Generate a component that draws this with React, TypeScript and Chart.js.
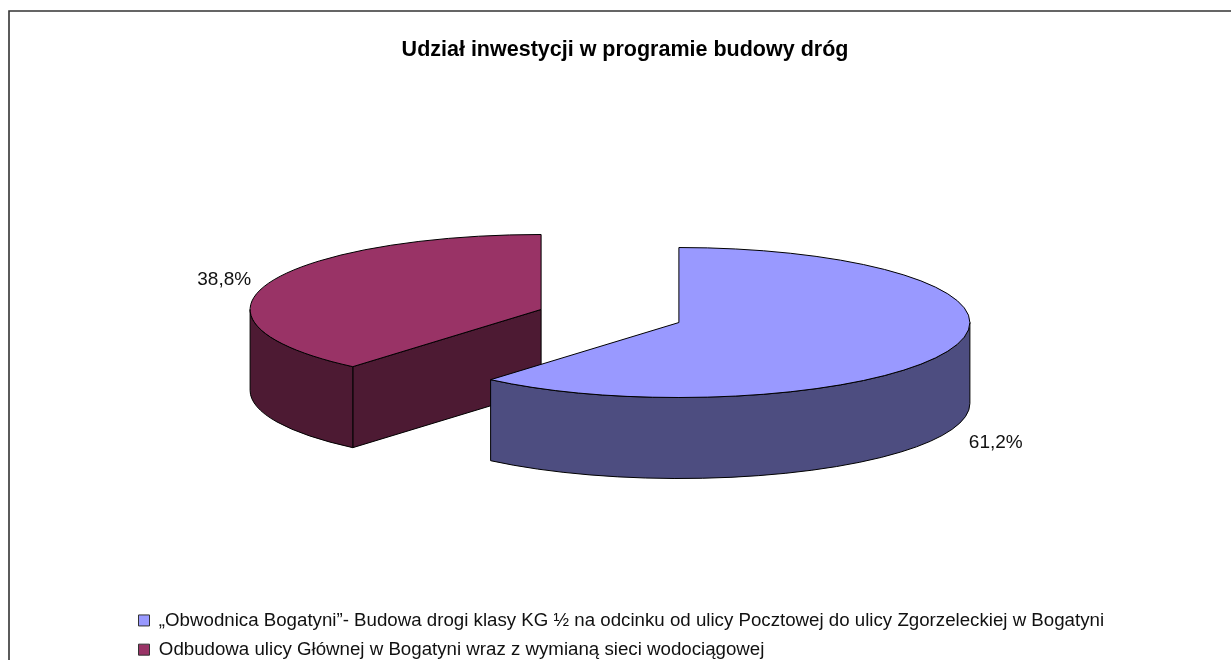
import React, { useEffect, useRef } from "react";
import { Chart, registerables } from "chart.js";

Chart.register(...registerables);

const chartTitle = "Udział inwestycji w programie budowy dróg";
const categories = [
  "„Obwodnica Bogatyni”- Budowa drogi klasy KG ½ na odcinku od ulicy Pocztowej do ulicy Zgorzeleckiej w Bogatyni",
  "Odbudowa ulicy Głównej w Bogatyni wraz z wymianą sieci wodociągowej",
];
const values = [61.2, 38.8];
const topColors = ["#9999FF", "#993366"];
const sideColors = ["#4D4D80", "#4D1A33"];

const FONT = "'Liberation Sans', Arial, sans-serif";
const RADIUS = 291;
const SQUASH = 0.2577;
const DEPTH = 81;
const EXPLODE = 73.4;
const CENTER_X = 610;
const CENTER_Y = 316;

const pie3d = {
  id: "pie3d",
  beforeDraw(chart: any) {
    const { ctx } = chart;
    ctx.save();
    ctx.strokeStyle = "#333333";
    ctx.lineWidth = 1.6;
    ctx.beginPath();
    ctx.moveTo(1240, 11);
    ctx.lineTo(9, 11);
    ctx.lineTo(9, 670);
    ctx.stroke();
    ctx.restore();
  },
  afterDatasetUpdate(chart: any) {
    const arcs = chart.getDatasetMeta(0).data;
    if (!arcs.length) return;
    const base = { x: arcs[0].x, y: arcs[0].y };
    chart.$pieBase = base;
    arcs.forEach((a: any) => {
      const mid = (a.startAngle + a.endAngle) / 2;
      a.x = base.x + Math.cos(mid) * EXPLODE;
      a.y = base.y + Math.sin(mid) * EXPLODE;
    });
  },
  beforeDatasetsDraw(chart: any) {
    const { ctx } = chart;
    const arcs = chart.getDatasetMeta(0).data;
    const base = chart.$pieBase;
    const toScreen = (a: any, r: number, t: number) => ({
      x: CENTER_X + a.x - base.x + r * Math.cos(t),
      y: CENTER_Y + (a.y - base.y + r * Math.sin(t)) * SQUASH,
    });
    ctx.save();
    ctx.lineWidth = 1;
    ctx.strokeStyle = "#000";
    // walls: back slice first
    [1, 0].forEach((i) => {
      const a = arcs[i];
      ctx.fillStyle = sideColors[i];
      const s = a.startAngle;
      const e = a.endAngle;
      const c = toScreen(a, 0, 0);
      // cut faces
      [
        [s, s - Math.PI / 2],
        [e, e + Math.PI / 2],
      ].forEach(([edge, normal]) => {
        if (Math.sin(normal) > 1e-6) {
          const p = toScreen(a, RADIUS, edge);
          ctx.beginPath();
          ctx.moveTo(c.x, c.y);
          ctx.lineTo(p.x, p.y);
          ctx.lineTo(p.x, p.y + DEPTH);
          ctx.lineTo(c.x, c.y + DEPTH);
          ctx.closePath();
          ctx.fill();
          ctx.stroke();
        }
      });
      // outer rim, visible between 0 and PI
      const norm = (t: number) => ((t % (2 * Math.PI)) + 2 * Math.PI) % (2 * Math.PI);
      let from = norm(s);
      let to = from + (e - s);
      if (from > Math.PI) from -= 2 * Math.PI, (to -= 2 * Math.PI);
      const r0 = Math.max(from, 0);
      const r1 = Math.min(to, Math.PI);
      if (r1 > r0) {
        ctx.beginPath();
        ctx.ellipse(c.x, c.y, RADIUS, RADIUS * SQUASH, 0, r0, r1);
        ctx.ellipse(c.x, c.y + DEPTH, RADIUS, RADIUS * SQUASH, 0, r1, r0, true);
        ctx.closePath();
        ctx.fill();
        ctx.stroke();
      }
    });
    ctx.restore();
    // the top faces: library arcs, squashed
    ctx.save();
    ctx.translate(CENTER_X, CENTER_Y);
    ctx.scale(1, SQUASH);
    ctx.translate(-base.x, -base.y);
  },
  afterDatasetsDraw(chart: any) {
    const { ctx } = chart;
    ctx.restore();
    const arcs = chart.getDatasetMeta(0).data;
    const base = chart.$pieBase;
    ctx.save();
    ctx.lineWidth = 1;
    ctx.strokeStyle = "#000";
    arcs.forEach((a: any, i: number) => {
      const cx = CENTER_X + a.x - base.x;
      const cy = CENTER_Y + (a.y - base.y) * SQUASH;
      ctx.beginPath();
      ctx.moveTo(cx, cy);
      ctx.ellipse(cx, cy, RADIUS, RADIUS * SQUASH, 0, a.startAngle, a.endAngle);
      ctx.closePath();
      ctx.stroke();
      // percentage labels
      const mid = (a.startAngle + a.endAngle) / 2;
      const lx = cx + RADIUS * 1.16 * Math.cos(mid);
      let ly = cy + RADIUS * SQUASH * 1.16 * Math.sin(mid);
      if (Math.sin(mid) > 0) ly += DEPTH + 9;
      ctx.fillStyle = "#111";
      ctx.font = `19px ${FONT}`;
      ctx.textAlign = "center";
      ctx.textBaseline = "middle";
      ctx.fillText(`${values[i].toFixed(1).replace(".", ",")}%`, lx, ly);
    });
    ctx.restore();
  },
};

export default function App() {
  const ref = useRef<HTMLCanvasElement>(null);
  useEffect(() => {
    const chart = new Chart(ref.current as HTMLCanvasElement, {
      type: "pie",
      data: {
        labels: categories,
        datasets: [
          {
            data: values,
            backgroundColor: topColors,
            borderWidth: 0,
          },
        ],
      },
      plugins: [pie3d],
      options: {
        animation: false,
        responsive: false,
        radius: RADIUS,
        layout: { padding: { left: 128, right: 109, top: 0, bottom: -9 } },
        plugins: {
          tooltip: { enabled: false },
          title: {
            display: true,
            text: chartTitle,
            color: "#000",
            font: { family: FONT, size: 21.5, weight: "bold" },
            padding: { top: 37, bottom: 10 },
          },
          legend: {
            position: "bottom",
            align: "start",
            labels: {
              boxWidth: 11,
              boxHeight: 11,
              padding: 10.5,
              color: "#111",
              font: { family: FONT, size: 18.7 },
              generateLabels: () =>
                categories.map((text, i) => ({
                  text,
                  fillStyle: topColors[i],
                  strokeStyle: "#333",
                  lineWidth: 1,
                  hidden: false,
                  index: i,
                  fontColor: "#111",
                })),
            },
          },
        },
      } as any,
    });
    return () => chart.destroy();
  }, []);
  return (
    <div style={{ position: "fixed", left: 0, top: 0, width: 1231, height: 660, overflow: "hidden", background: "#fff" }}>
      <canvas ref={ref} width={1231} height={660} style={{ display: "block" }} />
    </div>
  );
}
